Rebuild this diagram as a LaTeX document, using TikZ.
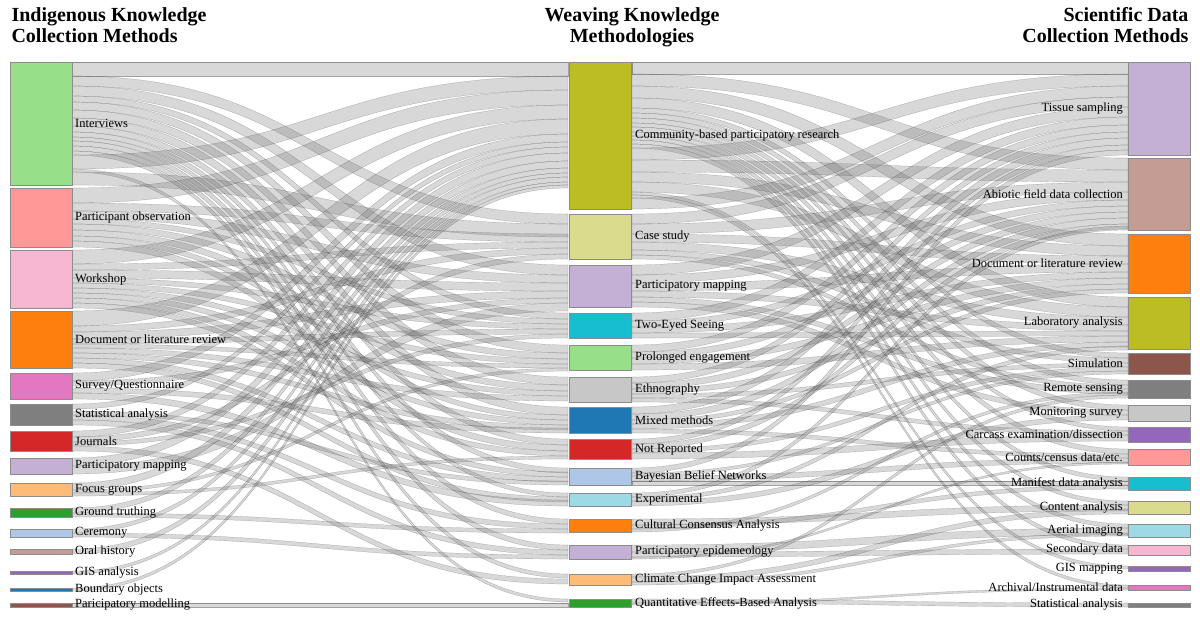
\documentclass[tikz,border=0pt]{standalone}
\usepackage{fontspec}
\setmainfont{Liberation Serif}
\usetikzlibrary{positioning}
\definecolor{cLgreen}{RGB}{152,223,138}
\definecolor{cSalmon}{RGB}{255,152,150}
\definecolor{cPink}{RGB}{247,182,210}
\definecolor{cOrange}{RGB}{255,127,14}
\definecolor{cOrchid}{RGB}{227,119,194}
\definecolor{cGray}{RGB}{127,127,127}
\definecolor{cRed}{RGB}{214,39,40}
\definecolor{cLav}{RGB}{197,176,213}
\definecolor{cLorange}{RGB}{255,187,120}
\definecolor{cGreen}{RGB}{44,160,44}
\definecolor{cLblue}{RGB}{174,199,232}
\definecolor{cTan}{RGB}{196,156,148}
\definecolor{cPurple}{RGB}{148,103,189}
\definecolor{cBlue}{RGB}{31,119,180}
\definecolor{cBrown}{RGB}{140,86,75}
\definecolor{cOlive}{RGB}{188,189,34}
\definecolor{cPyellow}{RGB}{219,219,141}
\definecolor{cCyan}{RGB}{23,190,207}
\definecolor{cPcyan}{RGB}{158,218,229}
\definecolor{cLgray}{RGB}{199,199,199}
\begin{document}
\begin{tikzpicture}[x=1pt,y=-1pt,
    bar/.style={draw=black!45,thin,minimum width=62pt,inner sep=0pt},
    lab/.style={font=\fontsize{12.5}{13}\selectfont,inner sep=1pt},
    title/.style={font=\fontsize{20}{21}\selectfont\bfseries,align=#1},
    band/.style={fill=black!55,fill opacity=0.28,draw=black,draw opacity=0.35,very thin}]
  \useasboundingbox (0,0) rectangle (1200,619);

  % flows, left column to middle column
  \foreach \s/\d/\w in {62/62/14,76/214/10,86/265/10,96/313/6,102/345/8,110/377/8,118/407/8,
      126/439/6,132/468/5,137/493/4,141/519/5,146/545/5,151/574/4,155/76/14,169/599/3,172/224/13,
      188/90/15,203/234/8,211/275/8,219/319/5,224/353/6,230/385/6,236/415/5,241/445/6,
      250/105/14,264/242/6,270/283/8,278/324/5,283/359/5,288/391/5,293/420/5,298/451/5,303/472/5,
      311/119/15,326/248/6,332/291/7,339/329/5,344/364/4,348/396/5,353/425/5,358/477/5,363/497/5,
      373/134/8,381/298/5,388/428/5,393/500/6,404/142/5,411/481/4,415/524/5,420/550/5,
      431/147/6,437/254/5,442/334/4,446/579/5,458/153/8,466/303/8,483/161/7,490/368/3,493/456/3,
      508/168/5,513/529/4,529/173/4,533/555/4,549/177/5,571/182/3,588/185/3,603/603/4}
    \fill[band] (72,\s) .. controls (320,\s) and (320,\d) .. (568,\d)
      -- (568,{\d+\w}) .. controls (320,{\d+\w}) and (320,{\s+\w}) .. (72,{\s+\w}) -- cycle;

  % flows, middle column to right column
  \foreach \s/\d/\w in {62/62/12,74/158/12,86/234/12,98/297/10,108/353/5,113/380/5,118/405/5,
      123/427/4,127/449/5,132/477/4,136/501/4,140/524/4,144/545/4,148/74/12,160/170/12,172/246/10,
      182/307/10,192/566/3,195/585/3,198/86/11,
      214/97/10,224/182/10,234/256/8,242/317/8,250/358/5,255/385/4,
      265/107/10,275/192/8,283/264/8,291/325/6,297/389/5,302/410/5,
      313/117/8,321/200/6,327/272/6,333/331/5,345/125/7,352/206/6,358/278/6,364/336/6,
      377/132/6,383/212/6,389/284/5,394/363/4,398/431/4,407/138/7,414/218/6,420/289/4,424/342/5,
      429/454/4,439/145/5,444/224/5,449/367/4,453/435/6,468/150/5,473/371/3,476/458/5,481/481/4,
      493/226/4,497/346/4,501/415/5,519/505/6,525/485/4,529/392/3,545/528/7,552/549/5,557/462/2,
      574/395/3,577/509/5,582/533/3,599/603/4,603/588/2}
    \fill[band] (632,\s) .. controls (880,\s) and (880,\d) .. (1128,\d)
      -- (1128,{\d+\w}) .. controls (880,{\d+\w}) and (880,{\s+\w}) .. (632,{\s+\w}) -- cycle;

  % left column
  \foreach \n/\c/\t/\b/\l in {int/cLgreen/62/185/Interviews,
      pobs/cSalmon/188/247/Participant observation,
      work/cPink/250/308/Workshop,
      doc/cOrange/311/368/Document or literature review,
      surv/cOrchid/373/399/{Survey/Questionnaire},
      stat/cGray/404/425/Statistical analysis,
      jour/cRed/431/451/Journals,
      pmap/cLav/458/474/Participatory mapping,
      focus/cLorange/483/496/Focus groups,
      ground/cGreen/508/517/Ground truthing,
      cer/cLblue/529/537/Ceremony,
      oral/cTan/549/554/Oral history,
      gis/cPurple/571/574/GIS analysis,
      bound/cBlue/588/591/Boundary objects,
      model/cBrown/603/607/Paricipatory modelling} {
    \node[bar,fill=\c,minimum height={(\b-\t)*1pt}] (L\n) at (41,{(\t+\b)/2}) {};
    \node[lab,anchor=west] (LL\n) at (74,{(\t+\b)/2}) {\l};
  }

  % middle column
  \foreach \n/\c/\t/\b/\l in {cbpr/cOlive/62/209/Community-based participatory research,
      case/cPyellow/214/259/Case study,
      pmap/cLav/265/307/Participatory mapping,
      two/cCyan/313/338/Two-Eyed Seeing,
      prol/cLgreen/345/370/Prolonged engagement,
      eth/cLgray/377/402/Ethnography,
      mix/cBlue/407/433/Mixed methods,
      nrep/cRed/439/459/Not Reported,
      bbn/cLblue/468/485/Bayesian Belief Networks,
      exp/cPcyan/493/506/Experimental,
      cca/cOrange/519/532/Cultural Consensus Analysis,
      pepi/cLav/545/559/Participatory epidemeology,
      ccia/cLorange/574/585/Climate Change Impact Assessment,
      qeba/cGreen/599/607/Quantitative Effects-Based Analysis} {
    \node[bar,fill=\c,minimum height={(\b-\t)*1pt}] (M\n) at (600,{(\t+\b)/2}) {};
    \node[lab,anchor=west] (ML\n) at (634,{(\t+\b)/2}) {\l};
  }

  % right column
  \foreach \n/\c/\t/\b/\l in {tis/cLav/62/155/Tissue sampling,
      abio/cTan/158/230/Abiotic field data collection,
      doc/cOrange/234/293/Document or literature review,
      lab/cOlive/297/349/Laboratory analysis,
      sim/cBrown/353/374/Simulation,
      rem/cGray/380/398/Remote sensing,
      mon/cLgray/405/421/Monitoring survey,
      carc/cPurple/427/442/{Carcass examination/dissection},
      count/cSalmon/449/465/{Counts/census data/etc.},
      man/cCyan/477/490/Manifest data analysis,
      cont/cPyellow/501/514/Content analysis,
      aer/cPcyan/524/537/Aerial imaging,
      sec/cPink/545/555/Secondary data,
      gis/cPurple/566/571/GIS mapping,
      arch/cOrchid/585/590/{Archival/Instrumental data},
      stat/cGray/603/607/Statistical analysis} {
    \node[bar,fill=\c,minimum height={(\b-\t)*1pt}] (R\n) at (1159,{(\t+\b)/2}) {};
    \node[lab,anchor=east] (RL\n) at (1124,{(\t+\b)/2}) {\l};
  }

  % column titles
  \node[title=left,anchor=north west] (tleft) at (8,4) {Indigenous Knowledge\\Collection Methods};
  \node[title=center,anchor=north] (tmid) at (632,4) {Weaving Knowledge\\Methodologies};
  \node[title=right,anchor=north east] (tright) at (1192,4) {Scientific Data\\Collection Methods};
\end{tikzpicture}
\end{document}
